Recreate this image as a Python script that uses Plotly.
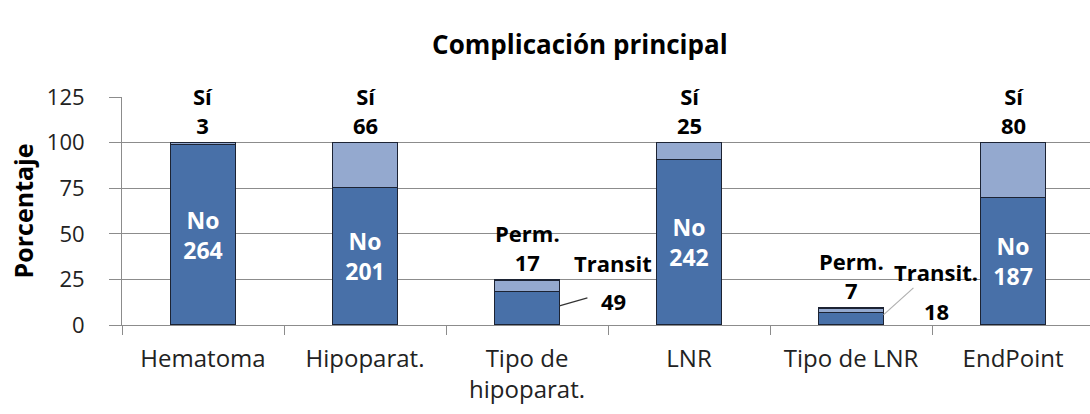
import plotly.graph_objects as go

# categories and counts (n = 267 patients)
categories = ["Hematoma", "Hipoparat.", "Tipo de<br>hipoparat.", "LNR", "Tipo de LNR", "EndPoint"]
bottom_names = ["No", "No", "Transit", "No", "Transit.", "No"]
bottom_counts = [264, 201, 49, 242, 18, 187]
top_names = ["Sí", "Sí", "Perm.", "Sí", "Perm.", "Sí"]
top_counts = [3, 66, 17, 25, 7, 80]
total_n = 267

bottom_pct = [c / total_n * 100 for c in bottom_counts]
top_pct = [c / total_n * 100 for c in top_counts]

DARK = "#4870A8"
LIGHT = "#94A9CF"
EDGE = "#1c2333"
GRID = "#8c8c8c"
FONT = "Open Sans"

fig = go.Figure()

inside_text = [
    f"<b>{n}<br>{c}</b>" if n == "No" else ""
    for n, c in zip(bottom_names, bottom_counts)
]
fig.add_trace(go.Bar(
    x=categories, y=bottom_pct,
    marker=dict(color=DARK, line=dict(color=EDGE, width=1.5)),
    text=inside_text, textposition="inside", insidetextanchor="middle",
    textangle=0, textfont=dict(color="white", size=23, family=FONT),
    showlegend=False,
))
fig.add_trace(go.Bar(
    x=categories, y=top_pct,
    marker=dict(color=LIGHT, line=dict(color=EDGE, width=1.5)),
    showlegend=False,
))

# labels above the bars (Sí / Perm.)
for i, cat in enumerate(categories):
    fig.add_annotation(
        x=cat, y=bottom_pct[i] + top_pct[i], yanchor="bottom", yshift=1,
        text=f"<b>{top_names[i]}<br>{top_counts[i]}</b>",
        showarrow=False, font=dict(size=22, color="black", family=FONT),
    )

# moved-out labels for the transient type, with leader lines
leader = {2: dict(dx=28, dy=8, frac=0.57, color="#333333", tx=86, name_dy=29, n_dy=-9),
          4: dict(dx=30, dy=27, frac=0.82, color="#b0b0b0", tx=85, name_dy=41, n_dy=2)}
for i, opt in leader.items():
    cat = categories[i]
    fig.add_shape(
        type="line", xref="x", yref="y", xsizemode="pixel", ysizemode="pixel",
        xanchor=i + 0.2, yanchor=bottom_pct[i] * opt["frac"],
        x0=0, x1=opt["dx"], y0=0, y1=opt["dy"],
        line=dict(color=opt["color"], width=1.2),
    )
    for txt, dy in ((bottom_names[i], opt["name_dy"]), (str(bottom_counts[i]), opt["n_dy"])):
        fig.add_annotation(
            x=cat, y=bottom_pct[i], xshift=opt["tx"], yshift=dy, yanchor="middle",
            text=f"<b>{txt}</b>", showarrow=False,
            font=dict(size=22, color="black", family=FONT),
        )

fig.update_layout(
    width=1090, height=414,
    barmode="stack", bargap=0.6,
    plot_bgcolor="white", paper_bgcolor="white",
    font=dict(family=FONT, size=22, color="#222222"),
    margin=dict(l=122, r=0, t=97, b=89),
    title=dict(text="<b>Complicación principal</b>", x=0.532, xanchor="center",
               y=1 - 45 / 414, yanchor="middle", yref="container",
               font=dict(size=26, color="black", family=FONT)),
)
fig.update_xaxes(
    range=[-0.5, 5.475], showline=True, linecolor=GRID, linewidth=1,
    ticks="outside", tickson="boundaries", ticklen=9, tickcolor=GRID,
    showgrid=False, tickfont=dict(size=24, color="#222222"), ticklabelstandoff=12,
)
fig.update_yaxes(
    range=[0, 125], dtick=25, showgrid=True, gridcolor=GRID, gridwidth=1,
    showline=True, linecolor=GRID, linewidth=1, ticks="outside", ticklen=12,
    tickcolor=GRID, tickfont=dict(size=22, color="#222222"), ticklabelstandoff=20,
    zeroline=False,
    title=dict(text="<b>Porcentaje</b>", font=dict(size=25, color="black"), standoff=6),
)

fig.write_html("out.html", config={"displayModeBar": False},
               post_script="document.body.style.margin='0';")
